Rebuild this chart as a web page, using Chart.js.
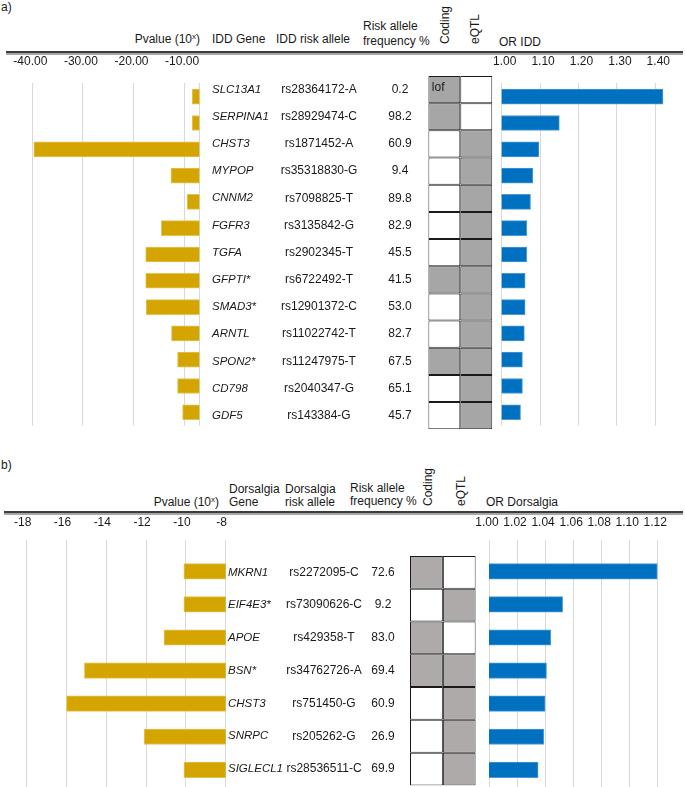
<!DOCTYPE html>
<html>
<head>
<meta charset="utf-8">
<script src="https://cdn.jsdelivr.net/npm/chart.js@4/dist/chart.umd.min.js"></script>
<style>
  html, body { margin: 0; padding: 0; background: #ffffff; }
  body { width: 685px; height: 787px; overflow: hidden; position: relative;
         font-family: "Liberation Sans", Arial, sans-serif; font-size: 12px; color: #1a1a1a; }
  .t { position: absolute; white-space: nowrap; line-height: 14px; }
  .rot { position: absolute; white-space: nowrap; line-height: 14px;
         transform-origin: 0 0; transform: rotate(-90deg); }
  .rule { position: absolute; height: 0; border-top: 2px solid #3c3c3c; border-bottom: 2px solid #a6a6a6; }
  .sx { font-size: 8px; position: relative; top: -4px; }
  canvas { position: absolute; }
</style>
</head>
<body>
<!-- Panel a headers -->
<div class="t" style="left:1px;top:0px;">a)</div>
<div class="t" style="left:100px;top:32px;width:100px;text-align:right;">Pvalue (10<span class="sx">x</span>)</div>
<div class="t" style="left:212px;top:32px;">IDD Gene</div>
<div class="t" style="left:276px;top:32px;">IDD risk allele</div>
<div class="t" style="left:363px;top:19px;line-height:15px;">Risk allele<br>frequency %</div>
<div class="rot" style="left:438px;top:43.5px;">Coding</div>
<div class="rot" style="left:468px;top:43.5px;">eQTL</div>
<div class="t" style="left:499px;top:35px;">OR IDD</div>
<div class="rule" style="left:6px;top:51px;width:677px;"></div>

<!-- Panel b headers -->
<div class="t" style="left:1px;top:458px;">b)</div>
<div class="t" style="left:119px;top:494.5px;width:100px;text-align:right;">Pvalue (10<span class="sx">x</span>)</div>
<div class="t" style="left:229px;top:483px;line-height:12.5px;">Dorsalgia<br>Gene</div>
<div class="t" style="left:285px;top:483px;line-height:12.5px;">Dorsalgia<br>risk allele</div>
<div class="t" style="left:350px;top:481.5px;line-height:13.5px;">Risk allele<br>frequency %</div>
<div class="rot" style="left:421px;top:505.5px;">Coding</div>
<div class="rot" style="left:454px;top:505.5px;">eQTL</div>
<div class="t" style="left:486px;top:495px;">OR Dorsalgia</div>
<div class="rule" style="left:4px;top:511px;width:679px;"></div>

<script>
// ---------------- Data: panel a (IDD) ----------------
const genesA   = ['SLC13A1','SERPINA1','CHST3','MYPOP','CNNM2','FGFR3','TGFA','GFPTI*','SMAD3*','ARNTL','SPON2*','CD798','GDF5'];
const allelesA = ['rs28364172-A','rs28929474-C','rs1871452-A','rs35318830-G','rs7098825-T','rs3135842-G','rs2902345-T','rs6722492-T','rs12901372-C','rs11022742-T','rs11247975-T','rs2040347-G','rs143384-G'];
const freqA    = ['0.2','98.2','60.9','9.4','89.8','82.9','45.5','41.5','53.0','82.7','67.5','65.1','45.7'];
const codingA  = [1,1,0,0,0,0,0,1,0,0,1,0,0];
const eqtlA    = [0,0,1,1,1,1,1,1,1,1,1,1,1];
const notesA   = ['lof','','','','','','','','','','','',''];
const pvalA    = [-8.4,-8.4,-39.7,-12.6,-9.4,-14.5,-17.6,-17.6,-17.5,-12.5,-11.3,-11.3,-10.3];
const orA      = [1.42,1.15,1.097,1.081,1.075,1.065,1.065,1.061,1.061,1.059,1.054,1.054,1.049];
const pTicksA  = [-40,-30,-20,-10];
const orTicksA = [1.00,1.10,1.20,1.30,1.40];

// ---------------- Data: panel b (Dorsalgia) ----------------
const genesB   = ['MKRN1','EIF4E3*','APOE','BSN*','CHST3','SNRPC','SIGLECL1'];
const allelesB = ['rs2272095-C','rs73090626-C','rs429358-T','rs34762726-A','rs751450-G','rs205262-G','rs28536511-C'];
const freqB    = ['72.6','9.2','83.0','69.4','60.9','26.9','69.9'];
const codingB  = [1,0,1,1,0,0,0];
const eqtlB    = [0,1,0,1,1,1,1];
const notesB   = ['','','','','','',''];
const pvalB    = [-10.1,-10.1,-11.1,-15.1,-16.0,-12.1,-10.1];
const orB      = [1.12,1.0525,1.044,1.041,1.040,1.039,1.035];
const pTicksB  = [-18,-16,-14,-12,-10,-8];
const orTicksB = [1.00,1.02,1.04,1.06,1.08,1.10,1.12];

// ---------------- Styles ----------------
const FONT = '"Liberation Sans", Arial, sans-serif';
Chart.defaults.font.family = FONT;
Chart.defaults.font.size = 12;
Chart.defaults.color = '#1a1a1a';
const GOLD = '#D4A500', GOLD_EDGE = '#e4c453';
const BLUE = '#0070C0', BLUE_EDGE = '#4b9ad6';
const GRID = '#d9d9d9';

function mk(left, top, w, h) {
  const c = document.createElement('canvas');
  c.width = w; c.height = h;
  c.style.left = left + 'px'; c.style.top = top + 'px';
  c.style.width = w + 'px'; c.style.height = h + 'px';
  document.body.appendChild(c);
  return c.getContext('2d');
}

function barChart(ctx, o) {
  return new Chart(ctx, {
    type: 'bar',
    data: { datasets: [{
      data: o.values.map((v, i) => ({ x: v, y: i })),
      backgroundColor: o.color, borderColor: o.edge, borderWidth: 1,
      borderSkipped: false, barThickness: o.thick
    }]},
    options: {
      indexAxis: 'y', responsive: false, animation: false, events: [],
      layout: { padding: o.pad },
      plugins: { legend: { display: false }, tooltip: { enabled: false } },
      scales: {
        x: {
          type: 'linear', position: 'top', min: o.min, max: o.max,
          afterBuildTicks: s => { s.ticks = o.gridVals.map(v => ({ value: v })); },
          afterFit: s => { s.height = o.axisH; s.paddingLeft = 0; s.paddingRight = 0; },
          ticks: {
            callback: v => o.ticks.includes(v) ? o.fmt(v) : '',
            padding: o.tickPad, labelOffset: o.labelOffset,
            maxRotation: 0, minRotation: 0, autoSkip: false,
            font: { size: 12 }, color: '#1a1a1a'
          },
          grid: { drawTicks: false, color: GRID, lineWidth: 1 },
          border: { display: false }
        },
        y: { type: 'linear', reverse: true, offset: false, min: o.yMin, max: o.yMax, display: false }
      }
    }
  });
}

function tableChart(ctx, o) {
  const cellColor = flags => flags.map(f => f ? o.gray : '#ffffff');
  const cellDs = (label, flags) => ({
    label, data: flags.map(() => 1), backgroundColor: cellColor(flags),
    borderColor: '#1a1a1a', borderWidth: 1, borderSkipped: false,
    barPercentage: 1, categoryPercentage: 1, inflateAmount: 0
  });
  return new Chart(ctx, {
    type: 'bar',
    data: { labels: o.genes, datasets: [cellDs('Coding', o.coding), cellDs('eQTL', o.eqtl)] },
    options: {
      indexAxis: 'y', responsive: false, animation: false, events: [],
      layout: { padding: o.pad },
      plugins: { legend: { display: false }, tooltip: { enabled: false } },
      scales: {
        x: { stacked: true, min: 0, max: 2, display: false },
        y: { stacked: true, display: false }
      }
    },
    plugins: [{
      id: 'rowText',
      afterDatasetsDraw(chart) {
        const c = chart.ctx, ys = chart.scales.y, xs = chart.scales.x;
        c.save();
        c.fillStyle = '#1a1a1a';
        c.textBaseline = 'middle';
        o.genes.forEach((g, i) => {
          const y = ys.getPixelForValue(i);
          c.font = 'italic 11.5px ' + FONT;
          c.textAlign = 'left';
          c.fillText(g, o.geneX, y);
          c.font = '12px ' + FONT;
          c.textAlign = 'center';
          c.fillText(o.alleles[i], o.alleleX, y);
          c.fillText(o.freqs[i], o.freqX, y);
          if (o.notes[i]) {
            c.textAlign = 'left';
            c.fillText(o.notes[i], xs.getPixelForValue(0) + 3.5, y - 2);
          }
        });
        c.restore();
      }
    }]
  });
}

// ---------------- Panel a ----------------
barChart(mk(0, 52, 215, 376), {
  values: pvalA, color: GOLD, edge: GOLD_EDGE, thick: 15,
  min: -45, max: -7, gridVals: pTicksA.concat([-7]), ticks: pTicksA, fmt: v => v.toFixed(2),
  pad: { left: 7, right: 15.7, top: 0, bottom: 2.3 }, axisH: 30.5, tickPad: 13.8, labelOffset: -2,
  yMin: -0.54, yMax: 12.51
});
tableChart(mk(200, 70, 300, 365), {
  genes: genesA, alleles: allelesA, freqs: freqA, coding: codingA, eqtl: eqtlA, notes: notesA,
  gray: '#a6a6a6', pad: { left: 228.3, right: 7.7, top: 6, bottom: 5.7 },
  geneX: 12, alleleX: 119, freqX: 200
});
barChart(mk(490, 52, 195, 376), {
  values: orA, color: BLUE, edge: BLUE_EDGE, thick: 15,
  min: 1.0, max: 1.45, gridVals: orTicksA, ticks: orTicksA, fmt: v => v.toFixed(2),
  pad: { left: 11.7, right: 10.5, top: 0, bottom: 2.3 }, axisH: 30.5, tickPad: 13.8, labelOffset: 3,
  yMin: -0.54, yMax: 12.51
});

// ---------------- Panel b ----------------
barChart(mk(0, 512, 240, 275), {
  values: pvalB, color: GOLD, edge: GOLD_EDGE, thick: 15.5,
  min: -19, max: -8, gridVals: pTicksB, ticks: pTicksB, fmt: v => String(v),
  pad: { left: 6.8, right: 14.3, top: 0, bottom: 0 }, axisH: 28, tickPad: 9.8, labelOffset: -4,
  yMin: -0.946, yMax: 6.517
});
tableChart(mk(200, 550, 285, 237), {
  genes: genesB, alleles: allelesB, freqs: freqB, coding: codingB, eqtl: eqtlB, notes: notesB,
  gray: '#aeaaaa', pad: { left: 210, right: 9.3, top: 6, bottom: 1.6 },
  geneX: 28, alleleX: 124, freqX: 183
});
barChart(mk(468, 512, 217, 275), {
  values: orB, color: BLUE, edge: BLUE_EDGE, thick: 15.5,
  min: 1.0, max: 1.125, gridVals: orTicksB, ticks: orTicksB, fmt: v => v.toFixed(2),
  pad: { left: 21, right: 20.7, top: 0, bottom: 0 }, axisH: 28, tickPad: 9.8, labelOffset: -2,
  yMin: -0.946, yMax: 6.517
});
</script>
</body>
</html>
